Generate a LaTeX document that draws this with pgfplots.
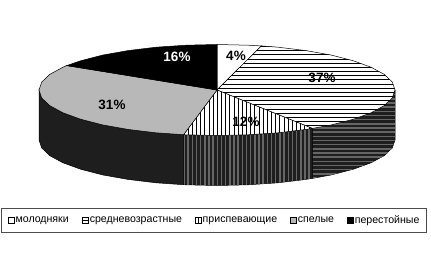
\documentclass[border=0pt]{standalone}
\usepackage{fontspec}
\setmainfont{Liberation Sans}
\usepackage{pgfplots}
\pgfplotsset{compat=1.18}
\definecolor{sidedark}{HTML}{1E1E1E}
\definecolor{sidestripe}{HTML}{666666}
\definecolor{ripe}{HTML}{B8B8B8}
\pgfplotsset{
  hkey/.style={legend image code/.code={\draw[##1] (0pt,-3pt) rectangle (6.5pt,3.5pt); \draw[black,line width=0.8pt] (0pt,0.25pt)--(6.5pt,0.25pt);}},
  vkey/.style={legend image code/.code={\draw[##1] (0pt,-3pt) rectangle (6.5pt,3.5pt); \draw[black,line width=0.8pt] (3.25pt,-3pt)--(3.25pt,3.5pt);}}
}
\begin{document}
\begin{tikzpicture}
\path[use as bounding box] (0,0) rectangle (431pt,254pt);
\begin{axis}[
  at={(0,0)}, anchor=south west,
  scale only axis, width=431pt, height=254pt,
  xmin=0, xmax=431, ymin=0, ymax=254, y dir=reverse,
  hide axis, clip=false, no markers,
  legend columns=5,
  legend cell align=left,
  legend image code/.code={\draw[#1] (0pt,-3pt) rectangle (6.5pt,3.5pt);},
  legend style={at={(axis cs:214,220.5)}, anchor=center, draw=black!70, line width=0.9pt,
    font=\fontsize{10.6}{12}\selectfont, inner xsep=6pt, inner ysep=5pt,
    /tikz/every even column/.append style={column sep=11.7pt},
    /tikz/every odd column/.append style={column sep=0pt},
    /tikz/nodes={inner xsep=1pt}},
]
% sides
\addplot[forget plot, draw=black, line width=0.5pt, fill=sidedark] coordinates {
 (395,90)(392.3,97.9)(384.3,105.6)(371.1,112.75)(353.4,119.2)(331.4,124.9)(312.4,128.4)
 (312.4,178.4)(331.4,174.9)(353.4,169.2)(371.1,162.75)(384.3,155.6)(392.3,147.9)(395,140)(395,90)};
\begin{scope}
\clip (axis cs:395,90)--(axis cs:392.3,97.9)--(axis cs:384.3,105.6)--(axis cs:371.1,112.75)--(axis cs:353.4,119.2)--(axis cs:331.4,124.9)--(axis cs:312.4,128.4)--(axis cs:312.4,178.4)--(axis cs:331.4,174.9)--(axis cs:353.4,169.2)--(axis cs:371.1,162.75)--(axis cs:384.3,155.6)--(axis cs:392.3,147.9)--(axis cs:395,140)--cycle;
\pgfplotsinvokeforeach{90.5,94.67,...,180}{\draw[sidestripe,line width=1.5pt] (axis cs:305,#1)--(axis cs:400,#1);}
\end{scope}
\addplot[forget plot, draw=black, line width=0.5pt, fill=sidedark] coordinates {
 (312.4,128.4)(306,129.4)(277.9,132.8)(247.9,134.8)(217,135.5)(186.1,134.8)(183.6,134.7)
 (183.6,184.7)(186.1,184.8)(217,185.5)(247.9,184.8)(277.9,182.8)(306,179.4)(312.4,178.4)(312.4,128.4)};
\begin{scope}
\clip (axis cs:312.4,128.4)--(axis cs:306,129.4)--(axis cs:277.9,132.8)--(axis cs:247.9,134.8)--(axis cs:217,135.5)--(axis cs:186.1,134.8)--(axis cs:183.6,134.7)--(axis cs:183.6,184.7)--(axis cs:186.1,184.8)--(axis cs:217,185.5)--(axis cs:247.9,184.8)--(axis cs:277.9,182.8)--(axis cs:306,179.4)--(axis cs:312.4,178.4)--cycle;
\pgfplotsinvokeforeach{184,188.17,...,314}{\draw[sidestripe,line width=1.5pt] (axis cs:#1,125)--(axis cs:#1,190);}
\end{scope}
\addplot[forget plot, draw=black, line width=0.5pt, fill=sidedark] coordinates {
 (183.6,134.7)(156.1,132.8)(128,129.4)(102.6,124.9)(80.6,119.2)(62.9,112.75)(49.7,105.6)(41.7,97.9)(39,90)
 (39,140)(41.7,147.9)(49.7,155.6)(62.9,162.75)(80.6,169.2)(102.6,174.9)(128,179.4)(156.1,182.8)(183.6,184.7)(183.6,134.7)};
% tops
\addplot[draw=black, line width=0.5pt, fill=white] coordinates {
 (217,90)(217,44.5)(247.9,45.2)(261.3,45.9)(217,90)};
\addlegendentry{молодняки}
\addplot[draw=black, line width=0.5pt, fill=white, hkey] coordinates {
 (217,90)(261.3,45.9)(277.9,47.2)(306,50.6)(331.4,55.1)(353.4,60.8)(371.1,67.25)(384.3,74.4)(392.3,82.1)(395,90)
 (392.3,97.9)(384.3,105.6)(371.1,112.75)(353.4,119.2)(331.4,124.9)(312.4,128.4)(217,90)};
\addlegendentry{средневозрастные}
\begin{scope}
\clip (axis cs:217,90)--(axis cs:261.3,45.9)--(axis cs:277.9,47.2)--(axis cs:306,50.6)--(axis cs:331.4,55.1)--(axis cs:353.4,60.8)--(axis cs:371.1,67.25)--(axis cs:384.3,74.4)--(axis cs:392.3,82.1)--(axis cs:395,90)--(axis cs:392.3,97.9)--(axis cs:384.3,105.6)--(axis cs:371.1,112.75)--(axis cs:353.4,119.2)--(axis cs:331.4,124.9)--(axis cs:312.4,128.4)--cycle;
\pgfplotsinvokeforeach{46.5,50.67,...,132}{\draw[black,line width=1pt] (axis cs:210,#1)--(axis cs:400,#1);}
\end{scope}
\addplot[draw=black, line width=0.5pt, fill=white, vkey] coordinates {
 (217,90)(312.4,128.4)(306,129.4)(277.9,132.8)(247.9,134.8)(217,135.5)(186.1,134.8)(183.6,134.7)(217,90)};
\addlegendentry{приспевающие}
\begin{scope}
\clip (axis cs:217,90)--(axis cs:312.4,128.4)--(axis cs:306,129.4)--(axis cs:277.9,132.8)--(axis cs:247.9,134.8)--(axis cs:217,135.5)--(axis cs:186.1,134.8)--(axis cs:183.6,134.7)--cycle;
\pgfplotsinvokeforeach{184,188.17,...,314}{\draw[black,line width=1pt] (axis cs:#1,85)--(axis cs:#1,140);}
\end{scope}
\addplot[draw=black, line width=0.5pt, fill=ripe] coordinates {
 (217,90)(183.6,134.7)(156.1,132.8)(128,129.4)(102.6,124.9)(80.6,119.2)(62.9,112.75)(49.7,105.6)(41.7,97.9)(39,90)
 (41.7,82.1)(49.7,74.4)(62.9,67.25)(66.7,65.6)(217,90)};
\addlegendentry{спелые}
\addplot[draw=black, line width=0.5pt, fill=black] coordinates {
 (217,90)(66.7,65.6)(80.6,60.8)(102.6,55.1)(128,50.6)(156.1,47.2)(186.1,45.2)(217,44.5)(217,90)};
\addlegendentry{перестойные}
% labels
\node[font=\fontsize{13.5}{14}\selectfont\bfseries] at (axis cs:236,56) {4\%};
\node[font=\fontsize{13.5}{14}\selectfont\bfseries] at (axis cs:322,78) {37\%};
\node[font=\fontsize{13.5}{14}\selectfont\bfseries] at (axis cs:246,122) {12\%};
\node[font=\fontsize{13.5}{14}\selectfont\bfseries] at (axis cs:112,105) {31\%};
\node[font=\fontsize{13.5}{14}\selectfont\bfseries, text=white] at (axis cs:177,57) {16\%};
\end{axis}
\end{tikzpicture}
\end{document}
